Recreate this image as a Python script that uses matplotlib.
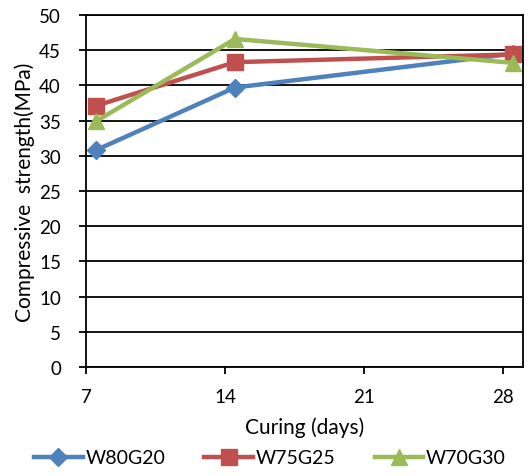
import matplotlib
matplotlib.use("Agg")
import matplotlib.pyplot as plt

plt.rcParams['font.family'] = ['Lato', 'DejaVu Sans']

days = [7, 14, 28]
w80g20 = [30.8, 39.7, 44.5]
w75g25 = [37.1, 43.3, 44.4]
w70g30 = [34.9, 46.6, 43.2]
x_ticks = [7, 14, 21, 28]
y_ticks = [0, 5, 10, 15, 20, 25, 30, 35, 40, 45, 50]

# date-style axis: each point sits in the middle of its day
xpos = [d + 0.5 for d in days]

fig = plt.figure(figsize=(5.31, 4.77), dpi=100)
ax = fig.add_axes([86/531, 1 - 368/477, (523 - 86)/531, (368 - 16)/477])

ax.set_axisbelow(True)
ax.yaxis.grid(True, color='black', linewidth=1.3)

ax.plot(xpos, w80g20, color='#4F81BD', lw=3.2, marker='D', ms=9, label='W80G20')
ax.plot(xpos, w75g25, color='#C0504D', lw=3.2, marker='s', ms=11, label='W75G25')
ax.plot(xpos, w70g30, color='#9BBB59', lw=3.2, marker='^', ms=12, label='W70G30')

ax.set_xlim(7, 29)
ax.set_ylim(0, 50)
ax.set_xticks(x_ticks)
ax.set_yticks(y_ticks)
for s in ax.spines.values():
    s.set_color('black')
    s.set_linewidth(1.3)
ax.tick_params(axis='both', direction='out', length=5, width=1.3, labelsize=13.5, colors='black')
ax.tick_params(axis='x', pad=10)
ax.tick_params(axis='y', pad=13)

ax.set_xlabel('Curing (days)', fontsize=15, labelpad=8)
ax.set_ylabel('Compressive  strength(MPa)', fontsize=15, labelpad=3)

fig.legend(*ax.get_legend_handles_labels(), loc='center',
           bbox_to_anchor=(270/531, 1 - 459/477), ncol=3, frameon=False,
           fontsize=14, handlelength=2.5, handletextpad=0.15, columnspacing=2.0)

fig.savefig('out.png', dpi=100)
